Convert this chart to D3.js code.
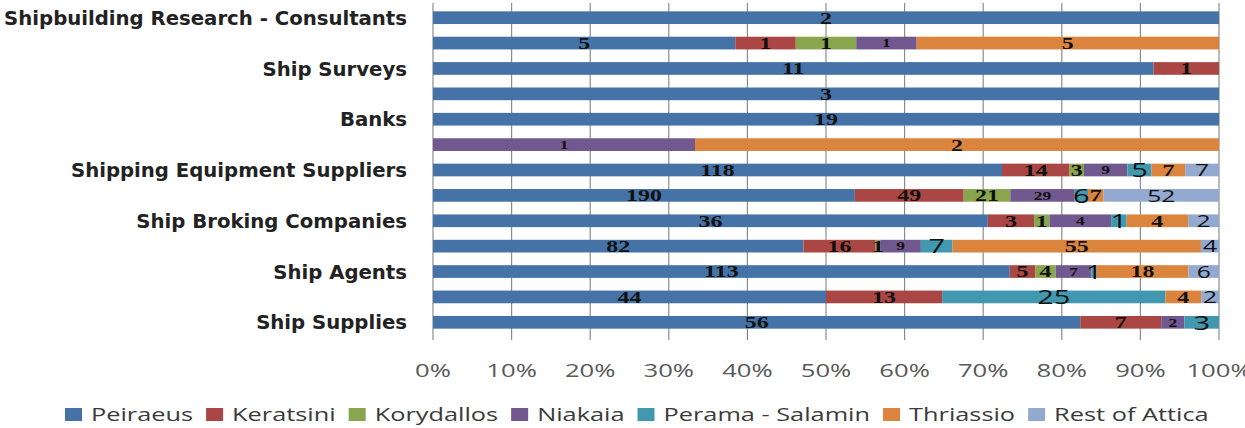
<!DOCTYPE html>
<html>
<head>
<meta charset="utf-8">
<script src="https://cdn.jsdelivr.net/npm/d3@7"></script>
<style>
  html, body { margin: 0; padding: 0; background: #ffffff; }
  svg { display: block; }
</style>
</head>
<body>
<svg id="chart" width="1245" height="428"></svg>
<script>
// ---------- data ----------
// Row labels (only every other row is labelled in the original chart)
const categories = [
  "Shipbuilding Research - Consultants", "", "Ship Surveys", "", "Banks", "",
  "Shipping Equipment Suppliers", "", "Ship Broking Companies", "",
  "Ship Agents", "", "Ship Supplies"
];
const seriesNames = ["Peiraeus", "Keratsini", "Korydallos", "Niakaia",
                     "Perama - Salamin", "Thriassio", "Rest of Attica"];
const peiraeus   = [2, 5, 11, 3, 19, 0, 118, 190, 36, 82, 113, 44, 56];
const keratsini  = [0, 1, 1, 0, 0, 0, 14, 49, 3, 16, 5, 13, 7];
const korydallos = [0, 1, 0, 0, 0, 0, 3, 21, 1, 1, 4, 0, 0];
const niakaia    = [0, 1, 0, 0, 0, 1, 9, 29, 4, 9, 7, 0, 2];
const perama     = [0, 0, 0, 0, 0, 0, 5, 6, 1, 7, 1, 25, 3];
const thriassio  = [0, 5, 0, 0, 0, 2, 7, 7, 4, 55, 18, 4, 0];
const restAttica = [0, 0, 0, 0, 0, 0, 7, 52, 2, 4, 6, 2, 0];
const tickValues = [0, 0.1, 0.2, 0.3, 0.4, 0.5, 0.6, 0.7, 0.8, 0.9, 1.0];

// ---------- styles ----------
const colors = ["#4572A7", "#AA4643", "#89A54E", "#71588F", "#4198AF", "#DB843D", "#93A9CF"];
const labelStyle = [
  {font: "Liberation Serif", size: 16.5, weight: "bold"},
  {font: "Liberation Serif", size: 16.5, weight: "bold"},
  {font: "Liberation Serif", size: 16.5, weight: "bold"},
  {font: "Liberation Serif", size: 12, weight: "bold"},
  {font: "Open Sans", size: 20, weight: "normal"},
  {font: "Liberation Serif", size: 16.5, weight: "bold"},
  {font: "Open Sans", size: 17, weight: "normal"}
];

const seriesArrays = [peiraeus, keratsini, korydallos, niakaia, perama, thriassio, restAttica];
const rows = categories.map((c, i) => {
  const o = {idx: i, name: c};
  seriesNames.forEach((s, k) => { o[s] = seriesArrays[k][i]; });
  return o;
});

const svg = d3.select("#chart");
const plotLeft = 433, plotRight = 1219, plotTop = 5, plotBottom = 335;

const x = d3.scaleLinear().domain([0, 1]).range([plotLeft, plotRight]);
const y = d3.scaleBand().domain(d3.range(categories.length))
  .range([plotTop, plotBottom]).paddingInner(0.5).paddingOuter(0.25);

// gridlines + tick marks
svg.append("g").selectAll("line").data(tickValues).join("line")
  .attr("x1", d => x(d)).attr("x2", d => x(d))
  .attr("y1", plotTop - 2).attr("y2", plotBottom + 5)
  .attr("stroke", "#8c8c8c").attr("stroke-width", 1.2);

// stacked bars
const stack = d3.stack().keys(seriesNames).offset(d3.stackOffsetExpand);
const stacked = stack(rows);

const gBars = svg.append("g");
stacked.forEach((layer, k) => {
  gBars.append("g").attr("fill", colors[k])
    .selectAll("rect").data(layer).join("rect")
    .attr("x", d => x(d[0]))
    .attr("width", d => Math.max(0, x(d[1]) - x(d[0])))
    .attr("y", (d, i) => y(i))
    .attr("height", y.bandwidth());
});

// value labels
const gLab = svg.append("g");
stacked.forEach((layer, k) => {
  const st = labelStyle[k];
  layer.forEach((d, i) => {
    const v = d.data[seriesNames[k]];
    if (!v) return;
    const cx = x((d[0] + d[1]) / 2);
    const cy = y(i) + y.bandwidth() / 2;
    gLab.append("text")
      .attr("transform", `translate(${cx},${cy}) scale(1.45,1)`)
      .attr("text-anchor", "middle")
      .attr("dy", "0.36em")
      .attr("font-family", st.font)
      .attr("font-size", st.size)
      .attr("font-weight", st.weight)
      .attr("fill", "#111")
      .text(v);
  });
});

// category labels
svg.append("g").selectAll("text").data(rows.filter(r => r.name !== "")).join("text")
  .attr("x", 407)
  .attr("y", d => y(d.idx) + y.bandwidth() / 2)
  .attr("dy", "0.36em")
  .attr("text-anchor", "end")
  .attr("font-family", "DejaVu Sans")
  .attr("font-weight", "bold")
  .attr("font-size", 19.7)
  .attr("fill", "#222")
  .text(d => d.name);

// x tick labels
const fmt = d3.format(".0%");
svg.append("g").selectAll("text").data(tickValues).join("text")
  .attr("transform", d => `translate(${x(d)},377) scale(1.35,1)`)
  .attr("text-anchor", "middle")
  .attr("font-family", "Open Sans")
  .attr("font-size", 19)
  .attr("fill", "#595959")
  .text(d => fmt(d));

// legend
const leg = svg.append("g");
let lx = 65;
const lscale = 1.37;
seriesNames.forEach((s, k) => {
  leg.append("rect").attr("x", lx).attr("y", 408).attr("width", 17).attr("height", 13)
    .attr("fill", colors[k]);
  const t = leg.append("text")
    .attr("transform", `translate(${lx + 26},421) scale(${lscale},1)`)
    .attr("font-family", "Open Sans")
    .attr("font-size", 18.5)
    .attr("fill", "#3a3a3a")
    .text(s);
  const w = t.node().getComputedTextLength() * lscale;
  lx = lx + 26 + w + 13;
});
</script>
</body>
</html>
